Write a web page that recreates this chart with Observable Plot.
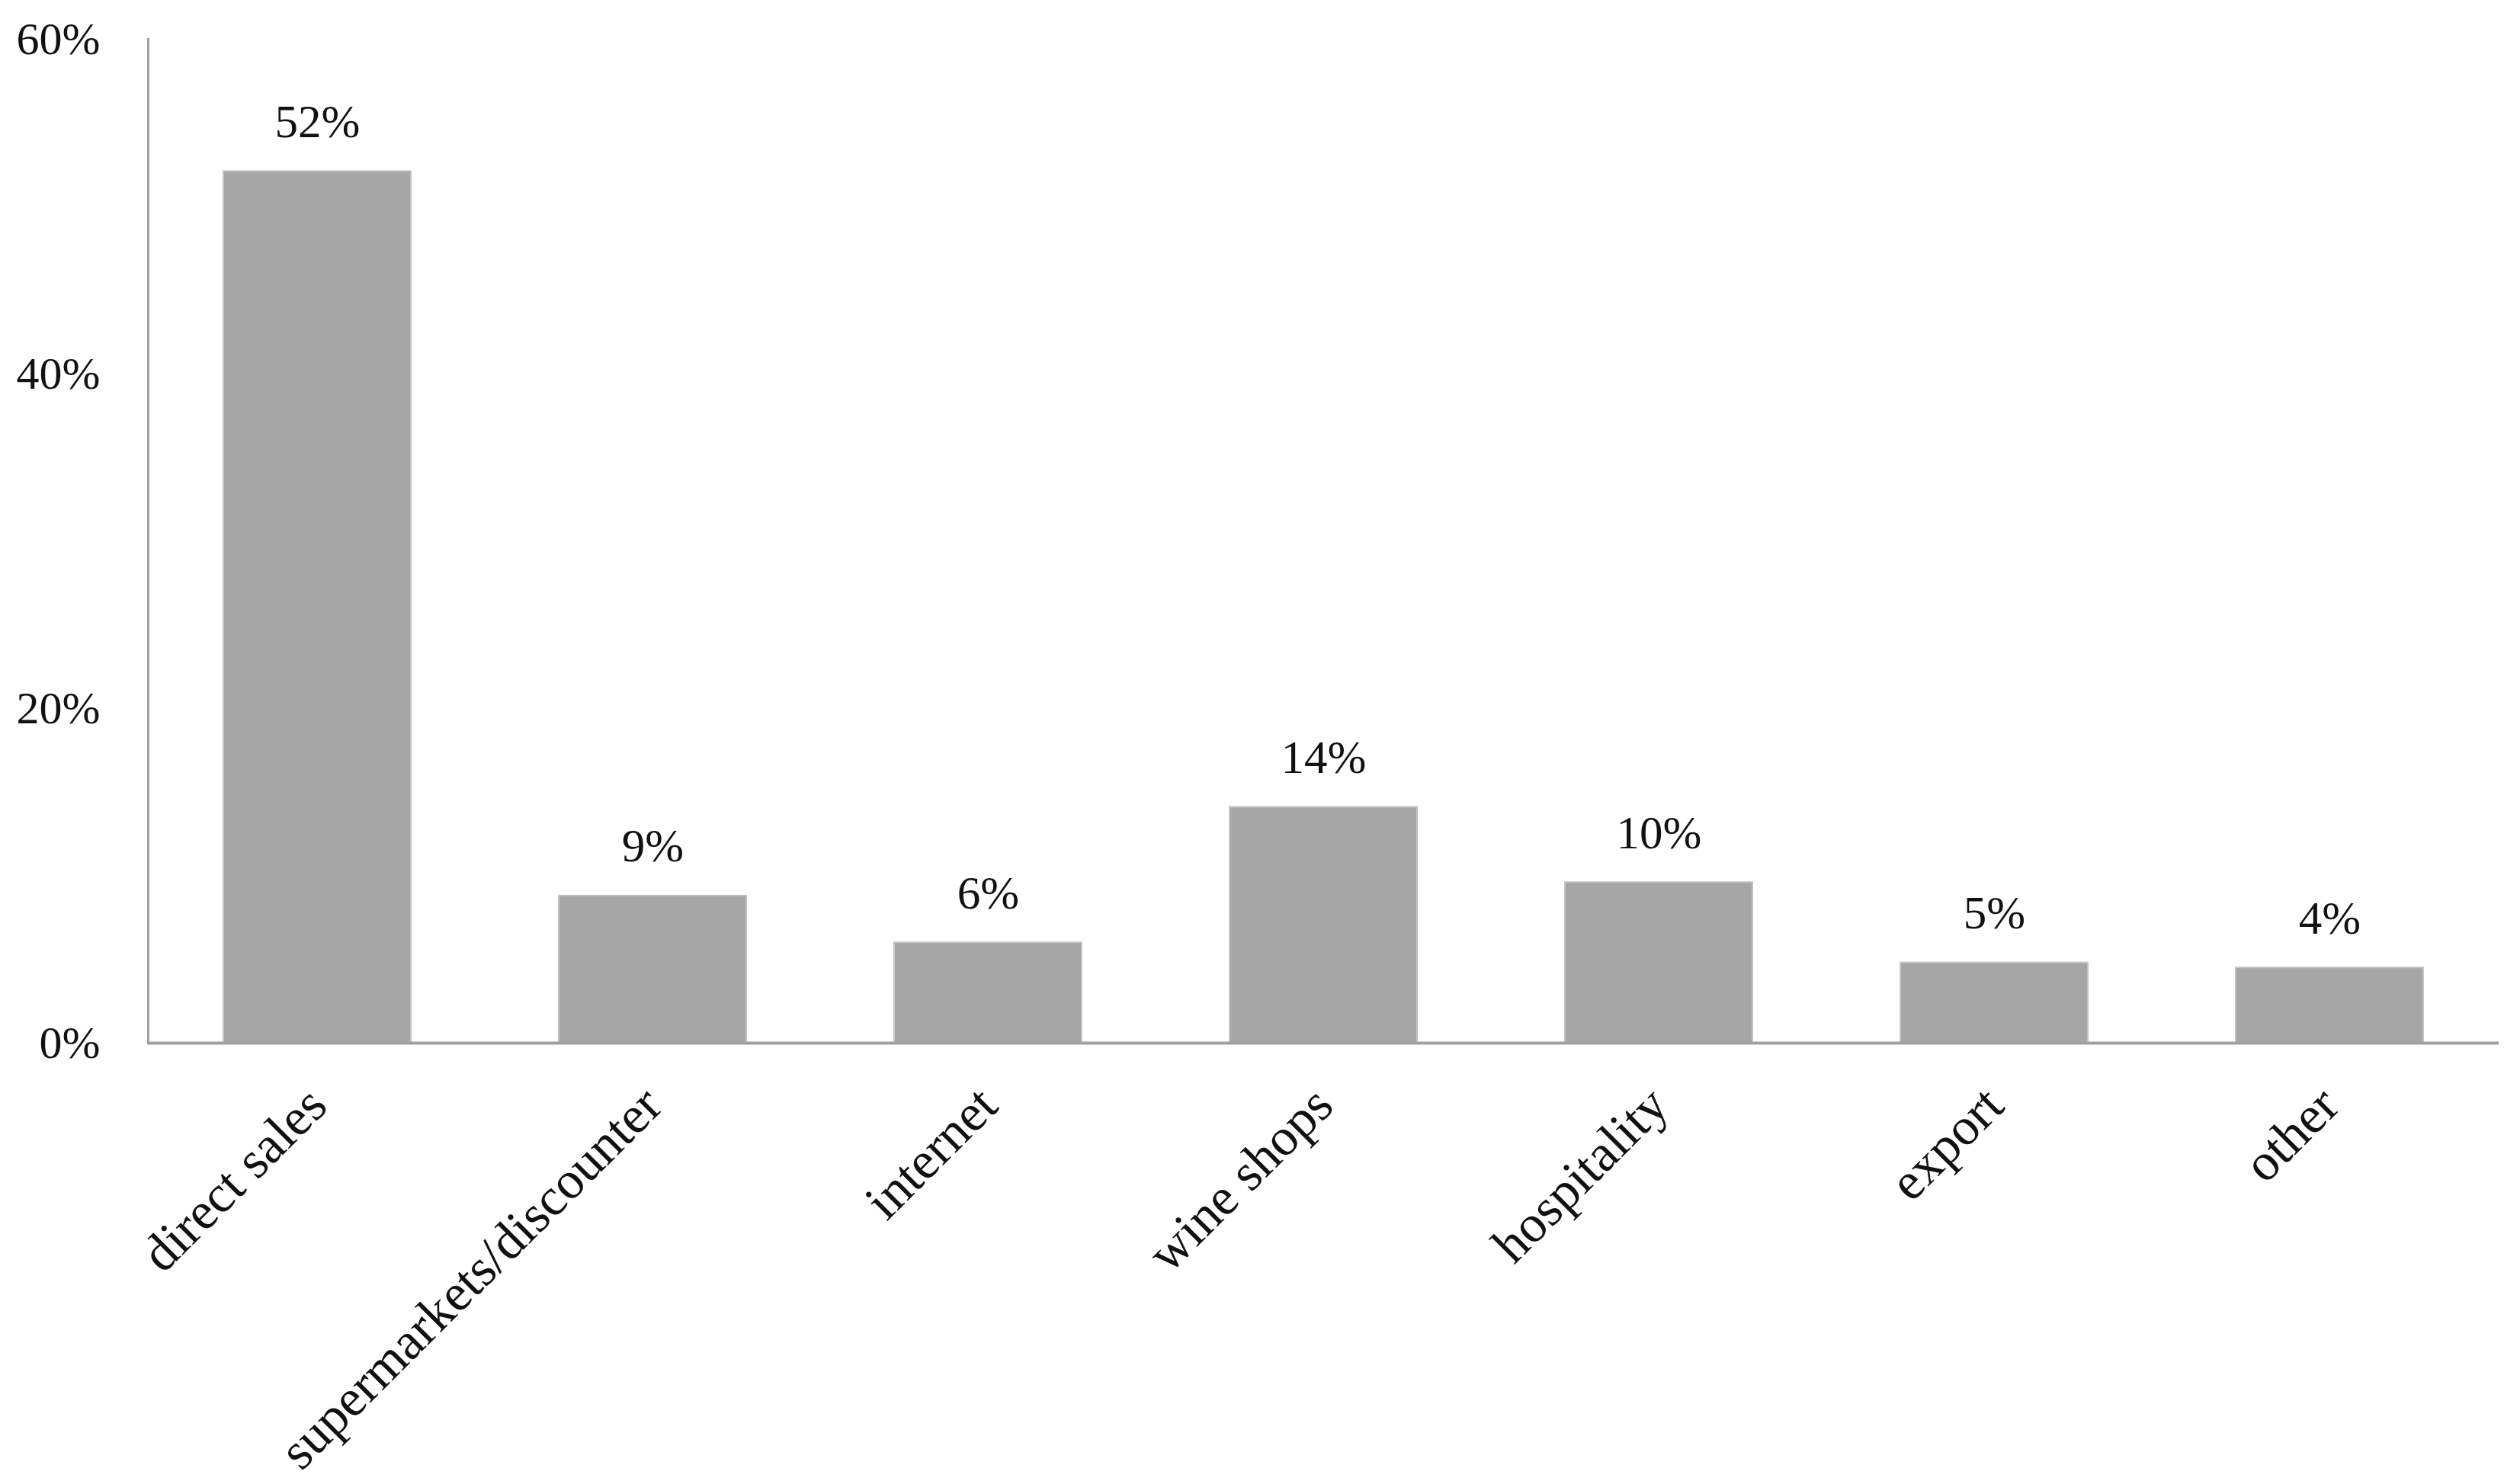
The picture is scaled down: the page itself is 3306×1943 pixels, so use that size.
<!DOCTYPE html>
<html>
<head>
<meta charset="utf-8">
<script src="https://cdn.jsdelivr.net/npm/d3@7"></script>
<script src="https://cdn.jsdelivr.net/npm/@observablehq/plot@0.6"></script>
<style>
  html, body { margin: 0; padding: 0; background: #fff; }
</style>
</head>
<body>
<div id="chart"></div>
<script>
const categories = ["direct sales", "supermarkets/discounter", "internet", "wine shops", "hospitality", "export", "other"];
const shares = [0.521, 0.088, 0.060, 0.141, 0.096, 0.048, 0.045];
const shareLabels = ["52%", "9%", "6%", "14%", "10%", "5%", "4%"];
const yTicks = [0, 0.2, 0.4, 0.6];

const data = categories.map((c, i) => ({category: c, share: shares[i], label: shareLabels[i]}));

const font = "'Liberation Serif', 'DejaVu Serif', serif";
const axisColor = "#a0a0a0";

const chart = Plot.plot({
  width: 3306,
  height: 1943,
  marginLeft: 194,
  marginRight: 28,
  marginTop: 51,
  marginBottom: 575,
  style: {fontFamily: font, fontSize: "58px", color: "#111", background: "#fff"},
  x: {domain: categories, paddingInner: 0.44, paddingOuter: 0.22, label: null},
  y: {domain: [0, 0.6], label: null},
  marks: [
    Plot.barY(data, {x: "category", y: "share", fill: "#a6a6a6", stroke: "#c4c4c4", strokeWidth: 2}),
    Plot.frame({anchor: "left", stroke: axisColor, strokeWidth: 3}),
    Plot.ruleY([0], {stroke: axisColor, strokeWidth: 4}),
    Plot.text(data, {x: "category", y: "share", text: "label", lineAnchor: "bottom", dy: -45, fontSize: 61, fill: "#111"}),
    Plot.axisY({ticks: yTicks, tickFormat: d3.format(".0%"), tickSize: 0, tickPadding: 63, fontSize: 60, label: null}),
    Plot.axisX({tickRotate: -45, tickSize: 0, tickPadding: 70, fontSize: 69, label: null})
  ]
});

document.getElementById("chart").appendChild(chart);
</script>
</body>
</html>
